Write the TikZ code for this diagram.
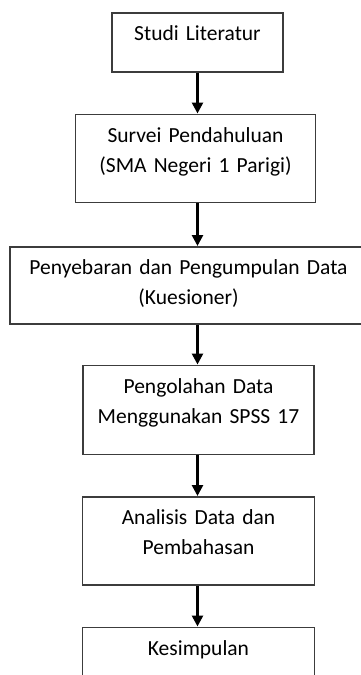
\documentclass[tikz,border=0pt]{standalone}
\usepackage{fontspec}
\setmainfont{Carlito}
\usetikzlibrary{positioning,arrows.meta}
\definecolor{boxline}{HTML}{3C3C3C}

\begin{document}
\begin{tikzpicture}[x=1pt,y=1pt,font=\fontsize{21.5}{30}\selectfont]
\tikzset{
% boxes of the flow: width and depth below the first line
step box/.style 2 args={draw=boxline,line width=1.5pt,align=center,
  text width=#1,inner xsep=0pt,inner ysep=6pt,text height=22pt,text depth=#2},
flow/.style={-{Triangle[width=11pt,length=11pt]},line width=2.6pt}
}
\useasboundingbox (0,0) rectangle (361,-675);

% The boxes
\node(lit)[step box={171pt}{25pt},anchor=north] at (197.5,-12) {Studi Literatur};
\node(survei)[step box={240pt}{54pt},below=41pt of lit,xshift=-2pt] {Survei Pendahuluan\\(SMA Negeri 1 Parigi)};
\node(sebar)[step box={380pt}{43pt},below=43pt of survei,xshift=4.5pt] {\hspace*{-23pt}Penyebaran dan Pengumpulan Data\\\hspace*{-23pt}(Kuesioner)};
\node(olah)[step box={231pt}{55pt},below=40pt of sebar,xshift=-1.5pt] {Pengolahan Data\\Menggunakan SPSS 17};
\node(analisis)[step box={232pt}{54pt},below=41pt of olah] {Analisis Data dan\\Pembahasan};
\node(simpul)[step box={232pt}{54pt},below=41pt of analisis] {Kesimpulan};

% connectors
\draw[flow] (lit.south) -- (lit.south |- survei.north);
\draw[flow] (survei.south -| lit.south) -- (sebar.north -| lit.south);
\draw[flow] (sebar.south -| lit.south) -- (olah.north -| lit.south);
\draw[flow] (olah.south -| lit.south) -- (analisis.north -| lit.south);
\draw[flow] (analisis.south -| lit.south) -- (simpul.north -| lit.south);
\end{tikzpicture}
\end{document}
